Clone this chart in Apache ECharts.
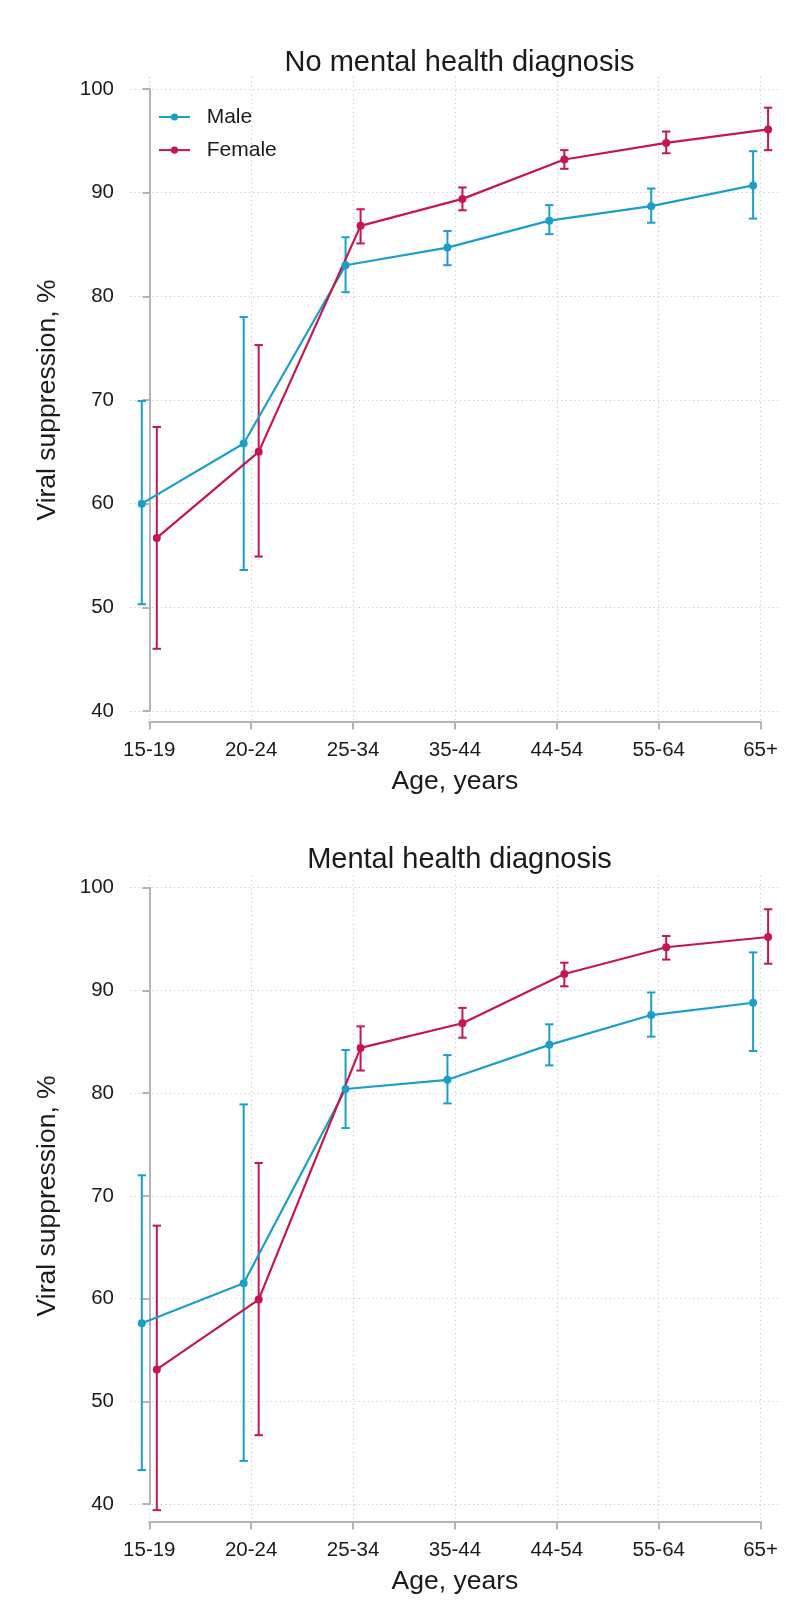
<!DOCTYPE html>
<html>
<head>
<meta charset="utf-8">
<script src="https://cdn.jsdelivr.net/npm/echarts@6/dist/echarts.min.js"></script>
<style>
  html, body { margin: 0; padding: 0; background: #ffffff; }
  #chart { width: 804px; height: 1614px; }
</style>
</head>
<body>
<div id="chart"></div>
<script>
// ---- Data ----
const categories = ['15-19', '20-24', '25-34', '35-44', '44-54', '55-64', '65+'];
const panelTitles = ['No mental health diagnosis', 'Mental health diagnosis'];
const seriesNames = ['Male', 'Female'];

// Panel 1: No mental health diagnosis
const maleNoMH     = [60.0, 65.8, 83.0, 84.7, 87.3, 88.7, 90.7];
const maleNoMHLo   = [50.3, 53.6, 80.4, 83.0, 86.0, 87.1, 87.5];
const maleNoMHHi   = [69.9, 78.0, 85.7, 86.3, 88.8, 90.4, 94.0];
const femaleNoMH   = [56.7, 65.0, 86.8, 89.4, 93.2, 94.8, 96.1];
const femaleNoMHLo = [46.0, 54.9, 85.1, 88.3, 92.3, 93.8, 94.1];
const femaleNoMHHi = [67.4, 75.3, 88.4, 90.5, 94.1, 95.9, 98.2];

// Panel 2: Mental health diagnosis
const maleMH     = [57.6, 61.5, 80.4, 81.3, 84.7, 87.6, 88.8];
const maleMHLo   = [43.3, 44.2, 76.6, 79.0, 82.7, 85.5, 84.1];
const maleMHHi   = [72.0, 78.9, 84.2, 83.7, 86.7, 89.8, 93.7];
const femaleMH   = [53.1, 59.9, 84.4, 86.8, 91.6, 94.2, 95.2];
const femaleMHLo = [39.4, 46.7, 82.2, 85.4, 90.4, 93.0, 92.6];
const femaleMHHi = [67.1, 73.2, 86.5, 88.3, 92.7, 95.3, 97.9];

// ---- Styling ----
const FONT = '"Liberation Sans", Arial, Helvetica, sans-serif';
const TEXT = '#1a1a1a';
const AXIS = '#b4b4b4';
const GRIDC = '#cccccc';
const MALE_C = '#1a9fca';
const FEMALE_C = '#c5174e';
const DODGE = 0.0736;

const panels = [
  { title: panelTitles[0], titleTop: 43, plotTop: 76.7, plotBottom: 722, yTop: 89, yBottom: 711,
    male: [maleNoMH, maleNoMHLo, maleNoMHHi], female: [femaleNoMH, femaleNoMHLo, femaleNoMHHi] },
  { title: panelTitles[1], titleTop: 840.5, plotTop: 875.4, plotBottom: 1522, yTop: 887.7, yBottom: 1504,
    male: [maleMH, maleMHLo, maleMHHi], female: [femaleMH, femaleMHLo, femaleMHHi] }
];

const catLeft = 149.3, catRight = 760.6;
const plotLeft = 130, plotRight = 779;
const unit = (catRight - catLeft) / (categories.length - 1);
const xMin = (plotLeft - catLeft) / unit;
const xMax = (categories.length - 1) + (plotRight - catRight) / unit;

function errRender(params, api) {
  const x = api.value(0), lo = api.value(1), hi = api.value(2);
  const pLo = api.coord([x, lo]);
  const pHi = api.coord([x, hi]);
  const cw = 4.2;
  const style = { stroke: api.visual('color'), lineWidth: 2 };
  return {
    type: 'group',
    children: [
      { type: 'line', shape: { x1: pHi[0], y1: pHi[1], x2: pLo[0], y2: pLo[1] }, style: style },
      { type: 'line', shape: { x1: pHi[0] - cw, y1: pHi[1], x2: pHi[0] + cw, y2: pHi[1] }, style: style },
      { type: 'line', shape: { x1: pLo[0] - cw, y1: pLo[1], x2: pLo[0] + cw, y2: pLo[1] }, style: style }
    ]
  };
}

const option = {
  backgroundColor: '#ffffff',
  animation: false,
  textStyle: { fontFamily: FONT },
  title: [],
  grid: [],
  xAxis: [],
  yAxis: [],
  series: [],
  legend: {
    data: seriesNames,
    orient: 'vertical',
    left: 158,
    top: 106.5,
    padding: 0,
    itemWidth: 31,
    itemHeight: 9,
    itemGap: 12.1,
    textStyle: { fontSize: 21, color: TEXT, fontFamily: FONT, padding: [0, 0, 0, 11.7] },
    selectedMode: false
  }
};

panels.forEach(function (p, pi) {
  option.title.push({
    text: p.title,
    left: (plotLeft + plotRight) / 2,
    top: p.titleTop,
    textAlign: 'center',
    textStyle: { fontSize: 29, fontWeight: 'normal', color: TEXT, fontFamily: FONT }
  });
  option.grid.push({ left: catLeft, width: catRight - catLeft, top: p.plotTop, height: p.plotBottom - p.plotTop, containLabel: false });
  option.grid.push({ left: plotLeft, width: plotRight - plotLeft, top: p.yTop, height: p.yBottom - p.yTop, containLabel: false });
  const gA = pi * 2, gB = pi * 2 + 1;

  option.xAxis.push({
    type: 'category', gridIndex: gA, data: categories, boundaryGap: false,
    position: 'bottom', offset: 2.3,
    axisLine: { show: true, lineStyle: { color: AXIS, width: 2 } },
    axisTick: { show: true, length: 7.5, interval: 0, lineStyle: { color: AXIS, width: 2 } },
    axisLabel: { interval: 0, margin: 15.5, fontSize: 20.5, color: TEXT, fontFamily: FONT },
    splitLine: { show: true, interval: 0, lineStyle: { color: GRIDC, width: 1.2, type: [1.2, 3.2] } },
    name: 'Age, years', nameLocation: 'middle', nameGap: 44.2,
    nameTextStyle: { fontSize: 26.5, color: TEXT, fontFamily: FONT }
  });
  option.yAxis.push({ type: 'value', gridIndex: gA, min: 0, max: 1, show: false });

  option.xAxis.push({ type: 'value', gridIndex: gB, min: xMin, max: xMax, show: false });
  option.yAxis.push({
    type: 'value', gridIndex: gB, min: 40, max: 100, interval: 10, offset: 2.7,
    axisLine: { show: true, lineStyle: { color: AXIS, width: 2 } },
    axisTick: { show: true, length: 7, lineStyle: { color: AXIS, width: 2 } },
    axisLabel: { margin: 13.3, fontSize: 20.5, color: TEXT, fontFamily: FONT },
    splitLine: { show: true, lineStyle: { color: GRIDC, width: 1.2, type: [1.2, 3.2] } },
    name: 'Viral suppression, %', nameLocation: 'middle', nameGap: 66.5, nameRotate: 90,
    nameTextStyle: { fontSize: 26.5, color: TEXT, fontFamily: FONT }
  });

  const groups = [
    { name: seriesNames[0], color: MALE_C, arr: p.male, dx: -DODGE },
    { name: seriesNames[1], color: FEMALE_C, arr: p.female, dx: DODGE }
  ];
  groups.forEach(function (g) {
    option.series.push({
      type: 'custom', name: g.name + ' CI', xAxisIndex: gB, yAxisIndex: gB,
      clip: false, silent: true,
      itemStyle: { color: g.color },
      encode: { x: 0, y: [1, 2] },
      renderItem: errRender,
      data: categories.map(function (c, i) { return [i + g.dx, g.arr[1][i], g.arr[2][i]]; })
    });
    option.series.push({
      type: 'line', name: g.name, xAxisIndex: gB, yAxisIndex: gB,
      symbol: 'circle', symbolSize: 8, showSymbol: true,
      lineStyle: { color: g.color, width: 2.2 },
      itemStyle: { color: g.color },
      color: g.color,
      data: categories.map(function (c, i) { return [i + g.dx, g.arr[0][i]]; })
    });
  });
});

const chart = echarts.init(document.getElementById('chart'), null, { renderer: 'canvas' });
chart.setOption(option);
</script>
</body>
</html>
